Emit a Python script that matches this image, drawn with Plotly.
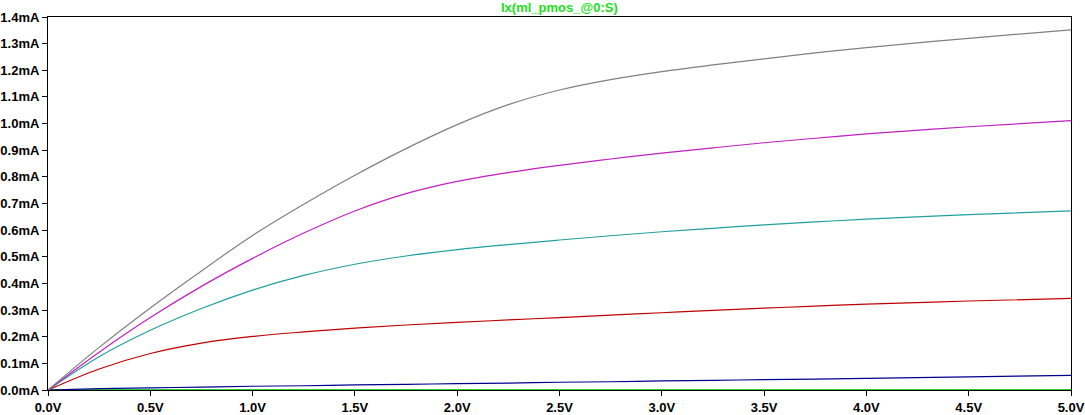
import plotly.graph_objects as go

# Vds sweep (V)
vds = [0.0, 0.25, 0.5, 0.75, 1.0, 1.25, 1.5, 1.75, 2.0, 2.25, 2.5, 2.75, 3.0, 3.25, 3.5, 3.75, 4.0, 4.5, 5.0]

# Drain currents (mA) for each gate step
i_gray = [0.0, 0.160, 0.308, 0.447, 0.580, 0.697, 0.806, 0.906, 0.996, 1.071, 1.126, 1.165, 1.195,
          1.220, 1.243, 1.265, 1.285, 1.320, 1.352]
i_magenta = [0.0, 0.142, 0.272, 0.389, 0.494, 0.589, 0.672, 0.737, 0.783, 0.816, 0.843, 0.867, 0.889,
             0.909, 0.928, 0.945, 0.961, 0.988, 1.011]
i_cyan = [0.0, 0.125, 0.224, 0.306, 0.375, 0.430, 0.472, 0.503, 0.527, 0.546, 0.563, 0.579, 0.594,
          0.607, 0.620, 0.631, 0.641, 0.658, 0.672]
i_red = [0.0, 0.079, 0.137, 0.176, 0.201, 0.218, 0.232, 0.244, 0.254, 0.263, 0.272, 0.281, 0.290,
         0.299, 0.307, 0.315, 0.322, 0.334, 0.344]
i_blue = [0.0, 0.005, 0.008, 0.011, 0.014, 0.016, 0.019, 0.021, 0.024, 0.026, 0.029, 0.031, 0.034,
          0.036, 0.039, 0.041, 0.044, 0.049, 0.055]
i_green = [0.0] * len(vds)

x_tickvals = [0.0, 0.5, 1.0, 1.5, 2.0, 2.5, 3.0, 3.5, 4.0, 4.5, 5.0]
x_ticktext = ["0.0V", "0.5V", "1.0V", "1.5V", "2.0V", "2.5V", "3.0V", "3.5V", "4.0V", "4.5V", "5.0V"]
y_tickvals = [0.0, 0.1, 0.2, 0.3, 0.4, 0.5, 0.6, 0.7, 0.8, 0.9, 1.0, 1.1, 1.2, 1.3, 1.4]
y_ticktext = ["0.0mA", "0.1mA", "0.2mA", "0.3mA", "0.4mA", "0.5mA", "0.6mA", "0.7mA",
              "0.8mA", "0.9mA", "1.0mA", "1.1mA", "1.2mA", "1.3mA", "1.4mA"]

title_text = "Ix(ml_pmos_@0:S)"

series = [
    (i_green, "#30d030", 2),
    (i_blue, "#000090", 1.2),
    (i_red, "#c00000", 1.2),
    (i_cyan, "#20a0a0", 1.2),
    (i_magenta, "#c020c0", 1.2),
    (i_gray, "#808080", 1.2),
]

fig = go.Figure()
for ys, color, w in series:
    fig.add_trace(go.Scatter(x=vds, y=ys, mode="lines",
                             line=dict(color=color, width=w, shape="spline", smoothing=1.0),
                             showlegend=False, hoverinfo="skip"))

tickfont = dict(family="Liberation Sans, Arial, sans-serif", size=13, color="black", weight="bold")

fig.update_layout(
    width=1085, height=415,
    margin=dict(l=48, r=14, t=17, b=25, autoexpand=False),
    paper_bgcolor="white", plot_bgcolor="white",
    showlegend=False,
    annotations=[dict(text=title_text, x=0.5, y=1, xref="paper", yref="paper",
                      xanchor="center", yanchor="bottom", yshift=0, showarrow=False,
                      font=dict(family="Liberation Sans, Arial, sans-serif", size=13,
                                color="#20e020", weight="bold"))],
)
fig.update_xaxes(range=[0, 5], tickvals=x_tickvals, ticktext=x_ticktext, automargin=False,
                 showgrid=False, zeroline=False, showline=True, linecolor="black", linewidth=1,
                 mirror=True, ticks="outside", ticklen=5, tickcolor="black", tickwidth=1,
                 tickfont=tickfont, layer="below traces")
fig.update_yaxes(range=[0, 1.4], tickvals=y_tickvals, ticktext=y_ticktext, automargin=False,
                 showgrid=False, zeroline=False, showline=True, linecolor="black", linewidth=1,
                 mirror=True, ticks="outside", ticklen=5, tickcolor="black", tickwidth=1,
                 tickfont=tickfont, layer="below traces")

fig.write_html("out.html", config={"displayModeBar": False},
               post_script="document.body.style.margin='0';document.body.style.overflow='hidden';")
